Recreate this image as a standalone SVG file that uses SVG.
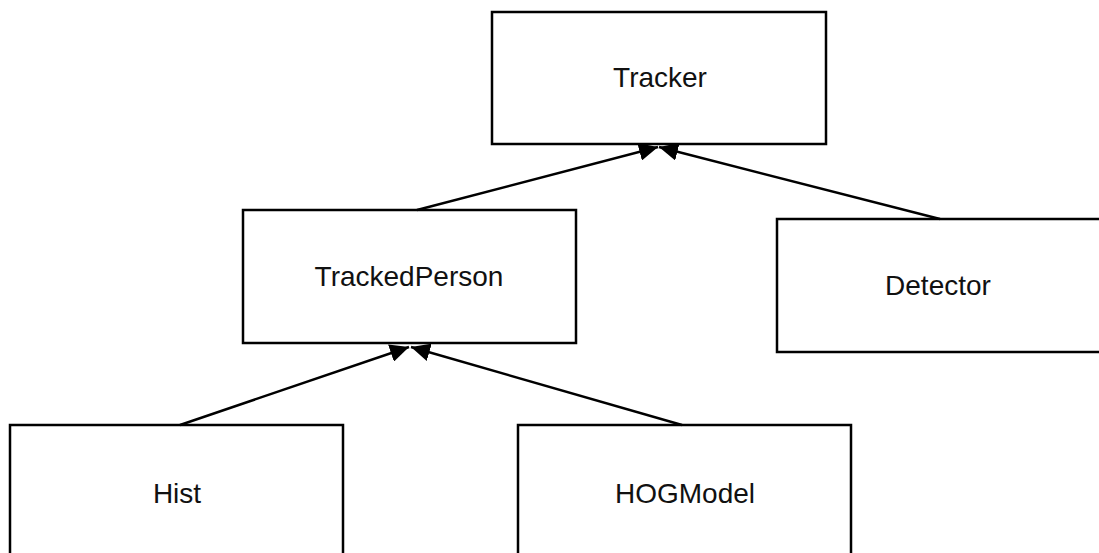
<svg xmlns="http://www.w3.org/2000/svg" width="1099" height="553" viewBox="0 0 1099 553">
  <style>
    .box { fill: #ffffff; stroke: #000000; stroke-width: 2.5; }
    .label { font-family: "Liberation Sans", Arial, sans-serif; font-size: 28px; fill: #111111; text-anchor: middle; }
    .edge { fill: none; stroke: #000000; stroke-width: 2.4; marker-end: url(#solidHead); }
  </style>
  <defs>
    <marker id="solidHead" markerUnits="userSpaceOnUse" viewBox="0 0 19 18" refX="19" refY="9" markerWidth="19" markerHeight="18" orient="auto">
      <path d="M0,0 L19,9 L0,18 z" fill="#000000"/>
    </marker>
  </defs>
  <rect width="1099" height="553" fill="#ffffff"/>

  <g id="tracker">
    <rect class="box" x="492" y="12" width="334" height="132"/>
    <text class="label" x="660" y="87">Tracker</text>
  </g>
  <g id="tracked-person">
    <rect class="box" x="243" y="210" width="333" height="133"/>
    <text class="label" x="409" y="286">TrackedPerson</text>
  </g>
  <g id="detector">
    <rect class="box" x="777" y="219" width="340" height="133"/>
    <text class="label" x="938" y="295">Detector</text>
  </g>
  <g id="hist">
    <rect class="box" x="10" y="425" width="333" height="140"/>
    <text class="label" x="177" y="503">Hist</text>
  </g>
  <g id="hog-model">
    <rect class="box" x="518" y="425" width="333" height="140"/>
    <text class="label" x="685" y="503">HOGModel</text>
  </g>

  <g id="connectors">
    <path class="edge" d="M417,210 L658,147"/>
    <path class="edge" d="M940,219 L659,147"/>
    <path class="edge" d="M180,425 L409,347"/>
    <path class="edge" d="M682,425 L411,347"/>
  </g>
</svg>
